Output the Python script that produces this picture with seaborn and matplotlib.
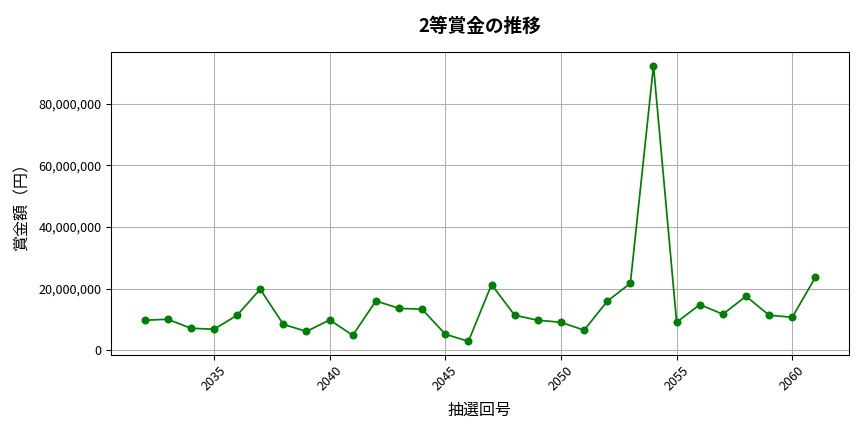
import matplotlib
matplotlib.use("Agg")
import matplotlib.pyplot as plt
import matplotlib.ticker as mticker
import pandas as pd
import seaborn as sns

# draw numbers and 2nd-prize amounts (yen)
draw_numbers = list(range(2032, 2062))
prize_amounts = [
    9_730_000, 10_050_000, 7_140_000, 6_810_000, 11_350_000,
    19_800_000, 8_400_000, 6_100_000, 9_840_000, 4_860_000,
    16_000_000, 13_600_000, 13_300_000, 5_200_000, 2_900_000,
    21_300_000, 11_350_000, 9_730_000, 9_080_000, 6_500_000,
    15_900_000, 21_700_000, 92_300_000, 9_080_000, 14_800_000,
    11_700_000, 17_500_000, 11_350_000, 10_700_000, 23_700_000,
]

title = "2等賞金の推移"
x_label = "抽選回号"
y_label = "賞金額（円）"


def main():
    df = pd.DataFrame({"draw": draw_numbers, "amount": prize_amounts})

    plt.rcParams["font.family"] = ["Noto Sans CJK JP", "DejaVu Sans"]
    fig, ax = plt.subplots(figsize=(9, 4.5), dpi=96)

    sns.lineplot(data=df, x="draw", y="amount", color="green", marker="o",
                 markersize=6, markeredgewidth=0, linewidth=1.3, ax=ax)

    ax.set_title(title, fontsize=14, fontweight="bold", pad=15)
    ax.set_xlabel(x_label, fontsize=12, labelpad=6)
    ax.set_ylabel(y_label, fontsize=12, labelpad=6)
    ax.yaxis.set_major_formatter(mticker.FuncFormatter(lambda v, p: f"{int(v):,}"))
    ax.tick_params(axis="both", labelsize=9.5)
    plt.setp(ax.get_xticklabels(), rotation=45)
    ax.grid(True, color="#b0b0b0", linewidth=0.8)
    ax.set_axisbelow(True)

    fig.subplots_adjust(left=0.1285, right=0.9826, top=0.88, bottom=0.178)
    fig.savefig("out.png", dpi=96)
    plt.close(fig)


if __name__ == "__main__":
    main()
